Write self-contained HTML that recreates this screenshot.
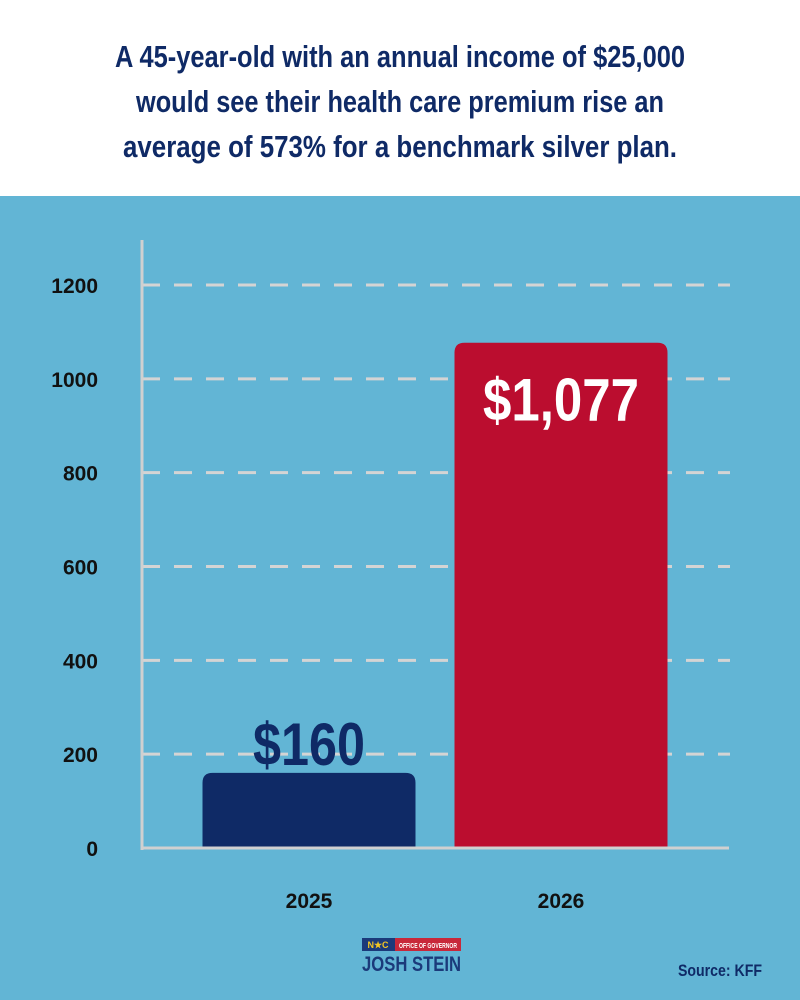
<!DOCTYPE html>
<html><head><meta charset="utf-8"><style>
html,body{margin:0;padding:0;width:800px;height:1000px;overflow:hidden;background:#62b5d5}
svg{display:block}
text{font-family:"Liberation Sans",sans-serif;font-weight:bold}
</style></head><body>
<svg id="chart" width="800" height="1000" xmlns="http://www.w3.org/2000/svg">
<rect x="0" y="0" width="800" height="196" fill="#ffffff"/>
<rect x="0" y="196" width="800" height="804" fill="#62b5d5"/>
<g fill="#0f2a66" font-size="31" text-anchor="middle">
<text x="400" y="67" textLength="570" lengthAdjust="spacingAndGlyphs">A 45-year-old with an annual income of $25,000</text>
<text x="400" y="112" textLength="528" lengthAdjust="spacingAndGlyphs">would see their health care premium rise an</text>
<text x="400" y="157" textLength="554" lengthAdjust="spacingAndGlyphs">average of 573% for a benchmark silver plan.</text>
</g>
<g id="grid"></g>
<g id="yticks"></g>
<g id="bars"></g>
<g id="xticks"></g>
<line x1="142" y1="240" x2="142" y2="850" stroke="#d0d0d0" stroke-width="3"/>
<line x1="141" y1="848" x2="729" y2="848" stroke="#d0d0d0" stroke-width="3"/>
<g>
<rect x="362" y="938" width="33" height="13" fill="#1b3a7a"/>
<rect x="395" y="938" width="66" height="13" fill="#c8283a"/>
<text x="378" y="948" font-size="9" fill="#f3c623" text-anchor="middle">N★C</text>
<text x="428" y="948" font-size="7" fill="#ffffff" text-anchor="middle" textLength="58" lengthAdjust="spacingAndGlyphs">OFFICE OF GOVERNOR</text>
<text x="362" y="971" font-size="21" fill="#1b3a7a" textLength="99" lengthAdjust="spacingAndGlyphs">JOSH STEIN</text>
</g>
<text x="678" y="976" font-size="17" fill="#0f2a66" textLength="84" lengthAdjust="spacingAndGlyphs">Source: KFF</text>
</svg>
<script>
const categories = ["2025", "2026"];
const values = [160, 1077];
const valueLabels = ["$160", "$1,077"];
const yTicks = [0, 200, 400, 600, 800, 1000, 1200];
const barColors = ["#0f2a66", "#bb0d2f"];
const labelColors = ["#0f2a66", "#ffffff"];

const NS = "http://www.w3.org/2000/svg";
const y0 = 848, pxPer = 563 / 1200;
const yScale = v => y0 - v * pxPer;
const xLeft = 142, bandW = 252, bandStart = 183, barW = 213;
const xCenter = i => bandStart + bandW * i + bandW / 2;

function mk(tag, attrs, parent) {
  const el = document.createElementNS(NS, tag);
  for (const k in attrs) el.setAttribute(k, attrs[k]);
  parent.appendChild(el);
  return el;
}
const grid = document.getElementById('grid');
const yt = document.getElementById('yticks');
yTicks.forEach(t => {
  const y = yScale(t);
  if (t > 0) {
    const l = mk('line', {x1: xLeft, x2: 730, y1: y, y2: y, stroke: '#d4d4d4', 'stroke-width': 3, 'stroke-dasharray': '18 14'}, grid);
    
    
  }
  const tx = mk('text', {x: 98, y: y + 8, 'font-size': 21, fill: '#111', 'text-anchor': 'end'}, yt);
  tx.textContent = t;
  
  
});
const bars = document.getElementById('bars');
const xt = document.getElementById('xticks');
categories.forEach((c, i) => {
  const cx = xCenter(i), top = yScale(values[i]), h = y0 - top, r = 10;
  const x = cx - barW / 2;
  const p = mk('path', {d: `M${x},${y0} L${x},${top + r} Q${x},${top} ${x + r},${top} L${x + barW - r},${top} Q${x + barW},${top} ${x + barW},${top + r} L${x + barW},${y0} Z`, fill: barColors[i]}, bars);
  
  
  const inside = h > 100;
  const ly = inside ? top + 78 : top - 8;
  const lbl = mk('text', {x: cx, y: ly, 'font-size': 60, fill: labelColors[i], 'text-anchor': 'middle', textLength: valueLabels[i].length * 26 + (inside ? 0 : 8), lengthAdjust: 'spacingAndGlyphs'}, bars);
  lbl.textContent = valueLabels[i];
  
  
  const tl = mk('text', {x: cx, y: 908, 'font-size': 21, fill: '#111', 'text-anchor': 'middle'}, xt);
  tl.textContent = c;
  
  
});
</script>
</body></html>
